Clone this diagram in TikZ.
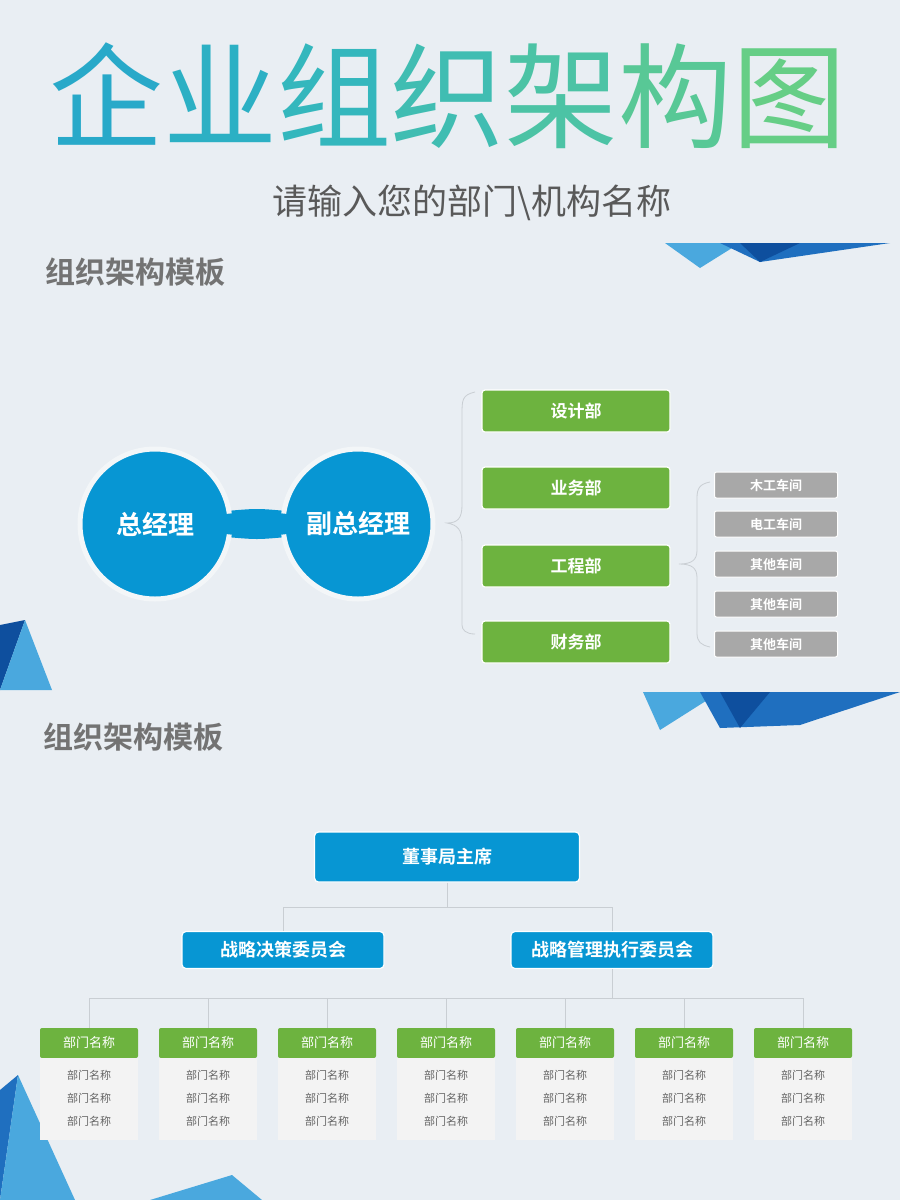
\documentclass[tikz,border=0pt]{standalone}
\usepackage{fontspec}
\newfontfamily\cjk{Noto Sans CJK SC}[BoldFont={Noto Sans CJK SC Bold}]
\definecolor{bg}{HTML}{E9EEF3}
\definecolor{cblue}{HTML}{0796D3}
\definecolor{cgreen}{HTML}{6DB33F}
\definecolor{cgray}{HTML}{A8A8A8}
\definecolor{lgray}{HTML}{F3F3F3}
\definecolor{line}{HTML}{C9CED3}
\definecolor{d1}{HTML}{1F6FBF}
\definecolor{d2}{HTML}{4AA8DE}
\definecolor{d3}{HTML}{0E4F9E}
\tikzset{
 gbox/.style={fill=cgreen,rounded corners=3pt,text=white,font=\cjk\bfseries\fontsize{17}{17}\selectfont,minimum width=188pt,minimum height=42pt,draw=white,line width=1.2pt},
 sbox/.style={fill=cgray,rounded corners=2pt,text=white,font=\cjk\bfseries\fontsize{13}{13}\selectfont,minimum width=123pt,minimum height=26pt,draw=white,line width=1pt},
 circ/.style={circle,fill=cblue,draw=white!45!bg,line width=5pt,minimum size=150pt,text=white,font=\cjk\bfseries\fontsize{26}{26}\selectfont},
 bbox/.style={fill=cblue,rounded corners=4pt,text=white,font=\cjk\bfseries\fontsize{18}{18}\selectfont,draw=white,line width=1.2pt},
 hbox/.style={fill=cgreen,rounded corners=2pt,text=white,font=\cjk\fontsize{13}{13}\selectfont,minimum width=98pt,minimum height=30pt},
 body/.style={fill=lgray,minimum width=98pt,minimum height=82pt,inner sep=0pt},
 btxt/.style={text=black!60,font=\cjk\fontsize{11}{11}\selectfont},
 conn/.style={draw=line,line width=0.8pt},
 head/.style={anchor=west,text=black!55,font=\cjk\bfseries\fontsize{30}{30}\selectfont}
}
\begin{document}
\begin{tikzpicture}[x=1pt,y=-1pt]
\fill[bg] (0,0) rectangle (900,1200);
\useasboundingbox (0,0) rectangle (900,1200);
% decorations
\fill[d2] (665,243) -- (740,243) -- (700,268) -- cycle;
\fill[d1] (720,243) -- (890,243) -- (760,262) -- cycle;
\fill[d3] (740,243) -- (800,243) -- (760,262) -- cycle;
\fill[d3] (0,625) -- (25,620) -- (0,690) -- cycle;
\fill[d2] (25,620) -- (52,690) -- (0,690) -- cycle;
\fill[d2] (643,692) -- (720,692) -- (660,730) -- cycle;
\fill[d1] (700,692) -- (900,692) -- (800,725) -- (720,728) -- cycle;
\fill[d3] (720,692) -- (770,692) -- (740,728) -- cycle;
\fill[d1] (0,1090) -- (18,1075) -- (0,1200) -- cycle;
\fill[d2] (18,1075) -- (75,1200) -- (0,1200) -- cycle;
\fill[d2] (150,1200) -- (232,1175) -- (262,1200) -- cycle;
% title
\node at (448,96) {\cjk\fontsize{114}{114}\selectfont
\textcolor[HTML]{28A9C9}{企}\textcolor[HTML]{2CB0C4}{业}\textcolor[HTML]{34B7BD}{组}\textcolor[HTML]{40BDB2}{织}\textcolor[HTML]{4CC3A5}{架}\textcolor[HTML]{58C896}{构}\textcolor[HTML]{66CE86}{图}};
\node[text=black!65] at (472,203) {\cjk\fontsize{35}{35}\selectfont 请输入您的部门\textbackslash 机构名称};
\node[head] at (42,272) {组织架构模板};
\node[head] at (40,737) {组织架构模板};
% part 1
\fill[cblue] (215,512) .. controls (262,508) and (252,508) .. (298,512) -- (298,536) .. controls (252,540) and (262,540) .. (215,536) -- cycle;
\node[circ] (gm) at (155,524) {总经理};
\node[circ] (vgm) at (358,524) {副总经理};
\fill[cblue] (226,514) .. controls (262,510) and (252,510) .. (287,514) -- (287,534) .. controls (252,538) and (262,538) .. (226,534) -- cycle;
\node[gbox] (d1) at (576,411) {设计部};
\node[gbox] (d2) at (576,488) {业务部};
\node[gbox] (d3) at (576,566) {工程部};
\node[gbox] (d4) at (576,642) {财务部};
\coordinate (b1) at (447,523);
\draw[conn] (475,392) .. controls (462,395) and (462,400) .. (462,415) -- (462,505) .. controls (462,518) and (458,523) .. (b1) .. controls (458,525) and (462,530) .. (462,543) -- (462,625) .. controls (462,630) and (466,634) .. (475,634);
\foreach \y/\t [count=\i] in {485/木工车间,524/电工车间,564/其他车间,604/其他车间,644/其他车间}
  \node[sbox] (s\i) at (776,\y) {\t};
\coordinate (b2) at (679,564);
\draw[conn] (710,482) .. controls (700,484) and (697,488) .. (697,498) -- (697,550) .. controls (697,560) and (692,564) .. (b2) .. controls (692,564) and (697,568) .. (697,578) -- (697,633) .. controls (697,642) and (701,645) .. (710,647);
% part 2
\node[bbox,minimum width=265pt,minimum height=50pt] (top) at (447,857) {董事局主席};
\node[bbox,minimum width=202pt,minimum height=37pt] (l) at (283,950) {战略决策委员会};
\node[bbox,minimum width=202pt,minimum height=37pt] (r) at (612,950) {战略管理执行委员会};
\draw[conn] (top.south) -- (447,907) -| (l.north);
\draw[conn] (447,907) -| (r.north);
\coordinate (hub) at (612,998);
\draw[conn] (r.south) -- (hub);
\foreach \x [count=\i] in {89,208,327,446,565,684,803}{
  \node[hbox] (h\i) at (\x,1043) {部门名称};
  \node[body,anchor=north] (bd\i) at (h\i.south) {};
  \node[btxt] at (\x,1075) {部门名称};
  \node[btxt] at (\x,1098) {部门名称};
  \node[btxt] at (\x,1121) {部门名称};
  \draw[conn] (\x,998) -- (h\i.north);
}
\draw[conn] (89,998) -- (803,998);
\end{tikzpicture}
\end{document}
